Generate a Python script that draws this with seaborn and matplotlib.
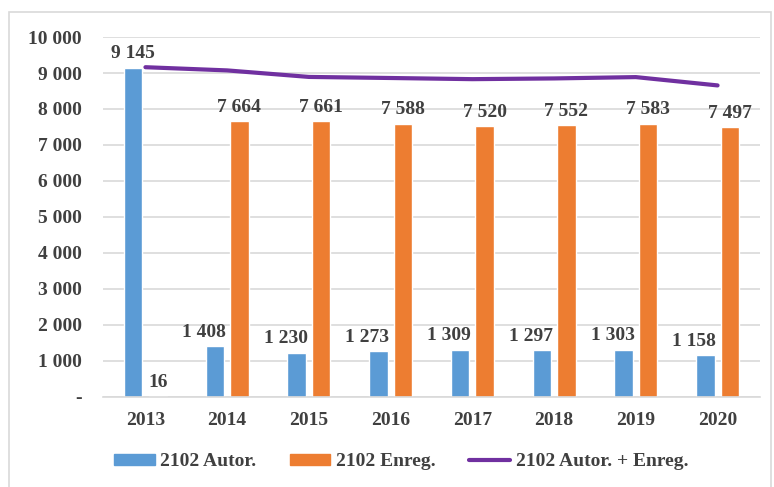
import numpy as np
import pandas as pd
import matplotlib
matplotlib.use("Agg")
import matplotlib.pyplot as plt
import seaborn as sns
from matplotlib.patches import Rectangle, Patch
from matplotlib.lines import Line2D

# donnees
annees = ["2013", "2014", "2015", "2016", "2017", "2018", "2019", "2020"]
autor = [9145, 1408, 1230, 1273, 1309, 1297, 1303, 1158]
enreg = [16, 7664, 7661, 7588, 7520, 7552, 7583, 7497]
total = [9161, 9072, 8891, 8861, 8829, 8849, 8886, 8655]
series = ["2102 Autor.", "2102 Enreg."]
ligne_nom = "2102 Autor. + Enreg."

BLEU = "#5B9BD5"
ORANGE = "#ED7D31"
VIOLET = "#7030A0"
TEXTE = "#404040"
FS = 14

sns.set_style("white")
plt.rcParams["font.family"] = ["Liberation Serif", "DejaVu Serif"]
plt.rcParams["font.weight"] = "bold"

df = pd.DataFrame({
    "annee": annees * 2,
    "valeur": autor + enreg,
    "serie": [series[0]] * len(annees) + [series[1]] * len(annees),
})

fig = plt.figure(figsize=(7.74, 4.87), dpi=100)
ax = fig.add_axes([0.133, 0.185, 0.849, 0.739])

sns.barplot(data=df, x="annee", y="valeur", hue="serie", palette=[BLEU, ORANGE],
            width=0.6, gap=0.25, ax=ax, legend=False, saturation=1)
sns.lineplot(x=np.arange(len(annees)), y=total, color=VIOLET, linewidth=3, ax=ax)

ax.set_ylim(0, 10000)
ax.set_xlim(-0.52, len(annees) - 0.48)
ax.set_yticks(np.arange(0, 10001, 1000))
ax.set_yticklabels(["-"] + [f"{v:,}".replace(",", " ") for v in range(1000, 10001, 1000)])
ax.yaxis.grid(True, color="#d9d9d9", linewidth=1.2)
ax.set_axisbelow(True)
for s in ["left", "right", "top"]:
    ax.spines[s].set_visible(False)
ax.spines["bottom"].set_color("#d9d9d9")
ax.spines["bottom"].set_linewidth(1.2)
ax.tick_params(axis="both", length=0, labelsize=FS, colors=TEXTE)
ax.tick_params(axis="x", pad=11)
ax.tick_params(axis="y", pad=15)
ax.set_xlabel("")
ax.set_ylabel("")

# etiquettes de valeurs
conts = ax.containers
for i, (b, v) in enumerate(zip(conts[0], autor)):
    dx = 0 if i == 0 else -8
    ax.annotate(f"{v:,}".replace(",", " "), (b.get_x() + b.get_width() / 2, b.get_height()),
                xytext=(dx, 4), textcoords="offset points", ha="center", va="bottom",
                fontsize=FS, color=TEXTE, fontweight="bold")
for b, v in zip(conts[1], enreg):
    ax.annotate(f"{v:,}".replace(",", " "), (b.get_x() + b.get_width() / 2, b.get_height()),
                xytext=(0, 4), textcoords="offset points", ha="center", va="bottom",
                fontsize=FS, color=TEXTE, fontweight="bold")

handles = [Patch(color=BLEU), Patch(color=ORANGE), Line2D([], [], color=VIOLET, linewidth=3)]
fig.legend(handles, series + [ligne_nom], loc="center", bbox_to_anchor=(0.518, 0.052),
           ncol=3, frameon=False, fontsize=FS, handlelength=2.1, handleheight=0.5,
           columnspacing=1.7, handletextpad=0.3, labelcolor=TEXTE)

# cadre autour du graphique
fig.patches.append(Rectangle((0.012, -0.02), 0.984, 0.995, transform=fig.transFigure,
                             fill=False, edgecolor="#d9d9d9", linewidth=1.2))

fig.savefig("out.png", dpi=100)
